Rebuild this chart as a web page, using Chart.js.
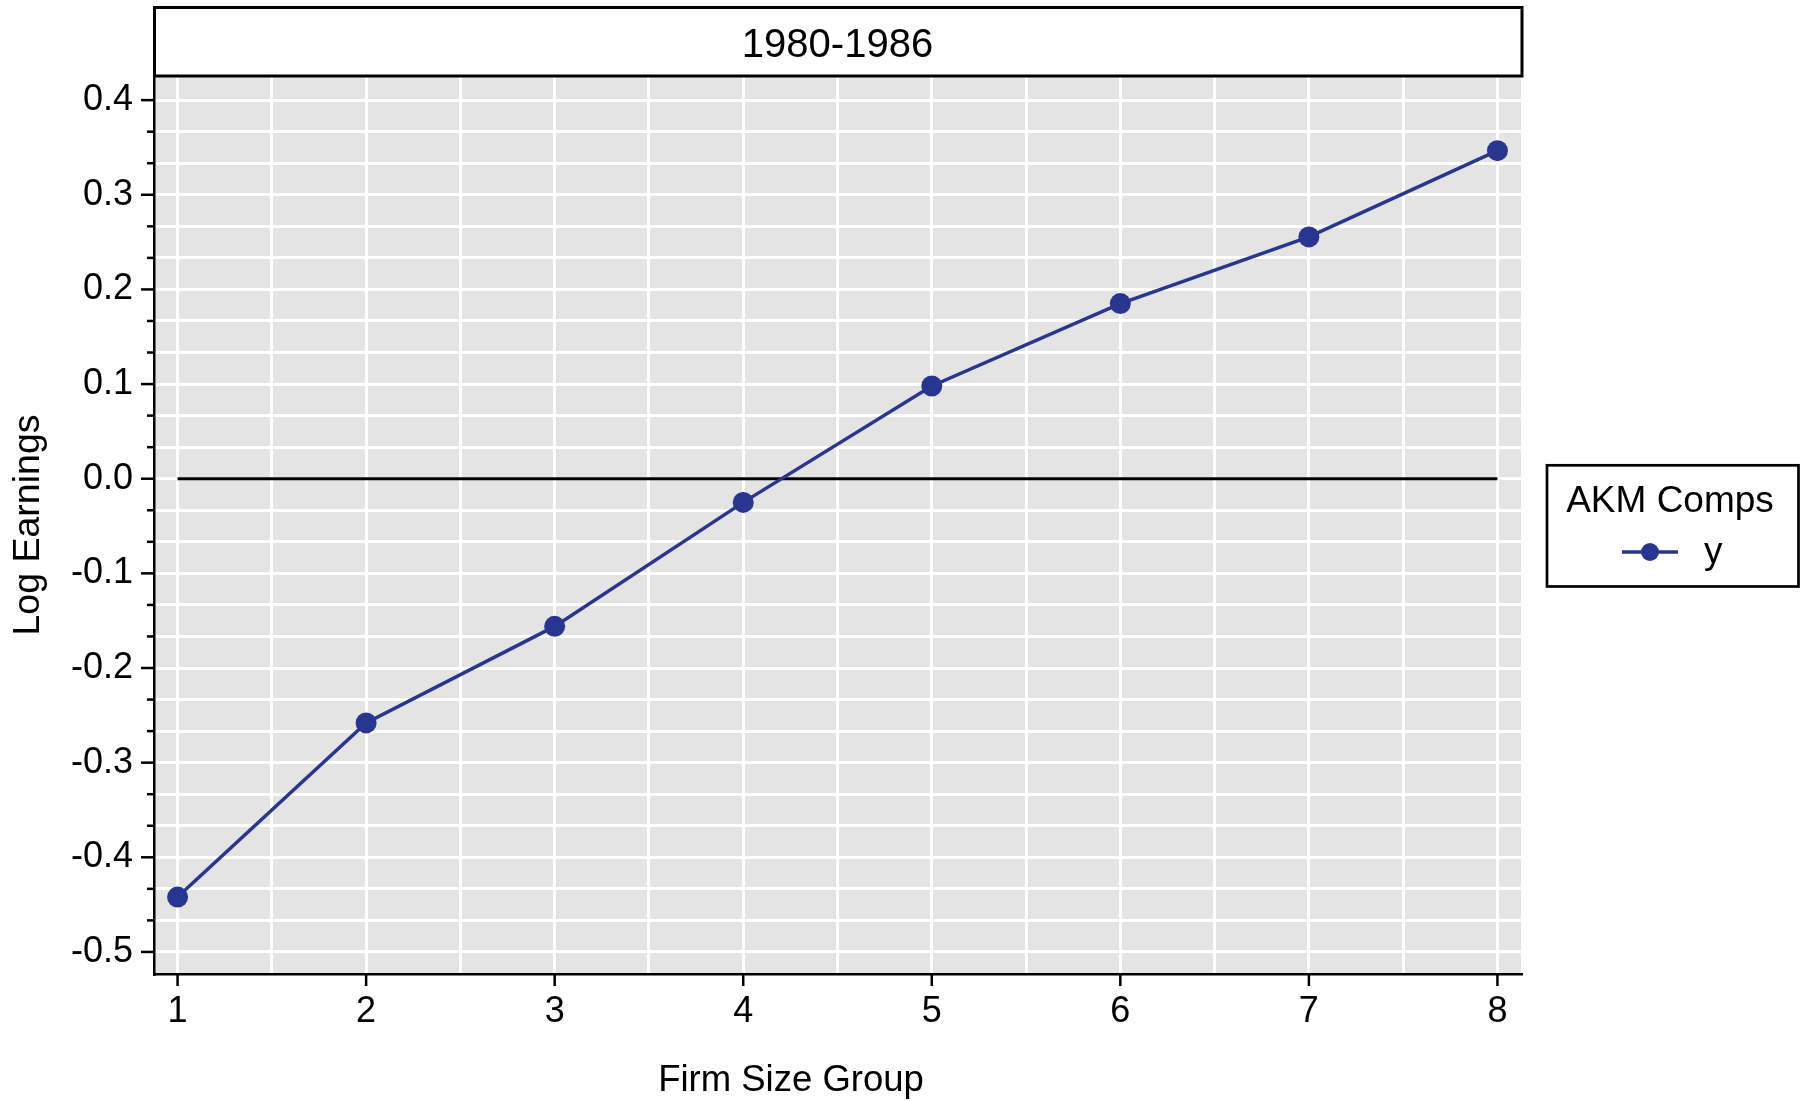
<!DOCTYPE html>
<html>
<head>
<meta charset="utf-8">
<title>Log Earnings by Firm Size Group, 1980-1986</title>
<script src="https://cdn.jsdelivr.net/npm/chart.js@4/dist/chart.umd.min.js"></script>
<style>
  html, body { margin: 0; padding: 0; background: #ffffff; }
  #wrap { width: 1800px; height: 1101px; }
</style>
</head>
<body>
<div id="wrap"><canvas id="chart" width="1800" height="1101"></canvas></div>
<script>
// ---- data -------------------------------------------------------------
const groups = [1, 2, 3, 4, 5, 6, 7, 8];
const logEarnings = [-0.442, -0.258, -0.156, -0.025, 0.098, 0.185, 0.2555, 0.3466];
const referenceLevel = [0, 0, 0, 0, 0, 0, 0, 0];
const xTickLabels = ['1', '2', '3', '4', '5', '6', '7', '8'];
const yTickLabels = ['-0.5', '-0.4', '-0.3', '-0.2', '-0.1', '0.0', '0.1', '0.2', '0.3', '0.4'];
const panelTitle = '1980-1986';
const legendTitle = 'AKM Comps';
const seriesName = 'y';
const xTitle = 'Firm Size Group';
const yTitle = 'Log Earnings';

// ---- style ------------------------------------------------------------
const FONT = "'Liberation Sans', Arial, sans-serif";
const SERIES_COLOR = '#29368f';
const PANEL_BG = '#e4e4e4';

// panel background
const panelBackground = {
  id: 'panelBackground',
  beforeDraw(chart) {
    const { ctx, chartArea: a } = chart;
    ctx.save();
    ctx.fillStyle = PANEL_BG;
    ctx.fillRect(a.left, a.top, a.right - a.left, a.bottom - a.top);
    ctx.restore();
  }
};

// tick marks (long at labelled values, short in between), strip, titles, legend
const decorations = {
  id: 'decorations',
  afterDraw(chart) {
    const { ctx, chartArea: a } = chart;
    const xs = chart.scales.x, ys = chart.scales.y;
    ctx.save();
    ctx.strokeStyle = '#000';
    ctx.lineWidth = 2.5;
    ctx.lineCap = 'butt';

    // y tick marks
    ys.ticks.forEach((t, i) => {
      const py = ys.getPixelForValue(t.value);
      const len = (i % 3 === 0) ? 13 : 7;
      ctx.beginPath();
      ctx.moveTo(a.left - len, py);
      ctx.lineTo(a.left, py);
      ctx.stroke();
    });
    // x tick marks
    groups.forEach(g => {
      const px = xs.getPixelForValue(g);
      ctx.beginPath();
      ctx.moveTo(px, a.bottom);
      ctx.lineTo(px, a.bottom + 12);
      ctx.stroke();
    });

    // strip above the panel
    ctx.fillStyle = '#fff';
    ctx.fillRect(a.left, 7.5, a.right - a.left + 0.5, a.top - 7.5);
    ctx.lineWidth = 3;
    ctx.strokeRect(a.left + 0.5, 7.5, a.right - a.left + 0.5, a.top - 7.5);
    ctx.fillStyle = '#000';
    ctx.font = '40px ' + FONT;
    ctx.textAlign = 'center';
    ctx.textBaseline = 'middle';
    ctx.fillText(panelTitle, (a.left + a.right) / 2, (7.5 + a.top) / 2 + 4);

    // axis titles
    ctx.font = '36.5px ' + FONT;
    ctx.textBaseline = 'alphabetic';
    ctx.fillText(xTitle, 791, 1091);
    ctx.save();
    ctx.font = '37.5px ' + FONT;
    ctx.translate(39, (a.top + a.bottom) / 2);
    ctx.rotate(-Math.PI / 2);
    ctx.fillText(yTitle, 0, 0);
    ctx.restore();

    // legend
    const ds = chart.data.datasets[0];
    ctx.lineWidth = 2.7;
    ctx.strokeStyle = '#000';
    ctx.strokeRect(1547, 465.3, 251.5, 121.2);
    ctx.font = '37px ' + FONT;
    ctx.textAlign = 'center';
    ctx.fillText(legendTitle, 1670, 512);
    ctx.strokeStyle = ds.borderColor;
    ctx.lineWidth = ds.borderWidth;
    ctx.beginPath();
    ctx.moveTo(1622, 552);
    ctx.lineTo(1678, 552);
    ctx.stroke();
    ctx.fillStyle = ds.pointBackgroundColor;
    ctx.beginPath();
    ctx.arc(1650, 552, 9, 0, Math.PI * 2);
    ctx.fill();
    ctx.fillStyle = '#000';
    ctx.textAlign = 'left';
    ctx.fillText(ds.label, 1704, 563);
    ctx.restore();
  }
};

const chart = new Chart(document.getElementById('chart'), {
  type: 'line',
  data: {
    datasets: [
      {
        label: seriesName,
        data: groups.map((g, i) => ({ x: g, y: logEarnings[i] })),
        borderColor: SERIES_COLOR,
        backgroundColor: SERIES_COLOR,
        pointBackgroundColor: SERIES_COLOR,
        pointBorderColor: SERIES_COLOR,
        borderWidth: 3.5,
        pointRadius: 10.5,
        pointBorderWidth: 0,
        tension: 0,
        order: 1
      },
      {
        label: 'zero',
        data: groups.map((g, i) => ({ x: g, y: referenceLevel[i] })),
        borderColor: '#000',
        borderWidth: 3,
        pointRadius: 0,
        tension: 0,
        order: 2
      }
    ]
  },
  options: {
    responsive: false,
    animation: false,
    events: [],
    layout: { padding: { top: 76, right: 279, bottom: 0, left: 0 } },
    plugins: {
      legend: { display: false },
      title: { display: false },
      tooltip: { enabled: false }
    },
    scales: {
      x: {
        type: 'linear',
        min: 0.875,
        max: 8.125,
        afterBuildTicks(scale) {
          const t = [];
          for (let k = 0; k <= 14; k++) t.push({ value: 1 + k * 0.5 });
          scale.ticks = t;
        },
        afterFit(scale) { scale.height = 127; },
        ticks: {
          autoSkip: false,
          maxRotation: 0,
          padding: 16,
          color: '#000',
          font: { family: FONT, size: 36 },
          callback(value, index) { return index % 2 === 0 ? xTickLabels[index / 2] : ''; }
        },
        grid: { color: '#ffffff', lineWidth: 3, drawTicks: false },
        border: { display: true, color: '#000', width: 2.5 }
      },
      y: {
        type: 'linear',
        min: -0.5233,
        max: 0.4255,
        afterBuildTicks(scale) {
          const t = [];
          for (let k = 0; k <= 27; k++) t.push({ value: -0.5 + k / 30 });
          scale.ticks = t;
        },
        afterFit(scale) { scale.width = 154; },
        ticks: {
          autoSkip: false,
          padding: 21,
          color: '#000',
          font: { family: FONT, size: 36 },
          callback(value, index) { return index % 3 === 0 ? yTickLabels[index / 3] : ''; }
        },
        grid: { color: '#ffffff', lineWidth: 3, drawTicks: false },
        border: { display: true, color: '#000', width: 2.5 }
      }
    }
  },
  plugins: [panelBackground, decorations]
});
</script>
</body>
</html>
